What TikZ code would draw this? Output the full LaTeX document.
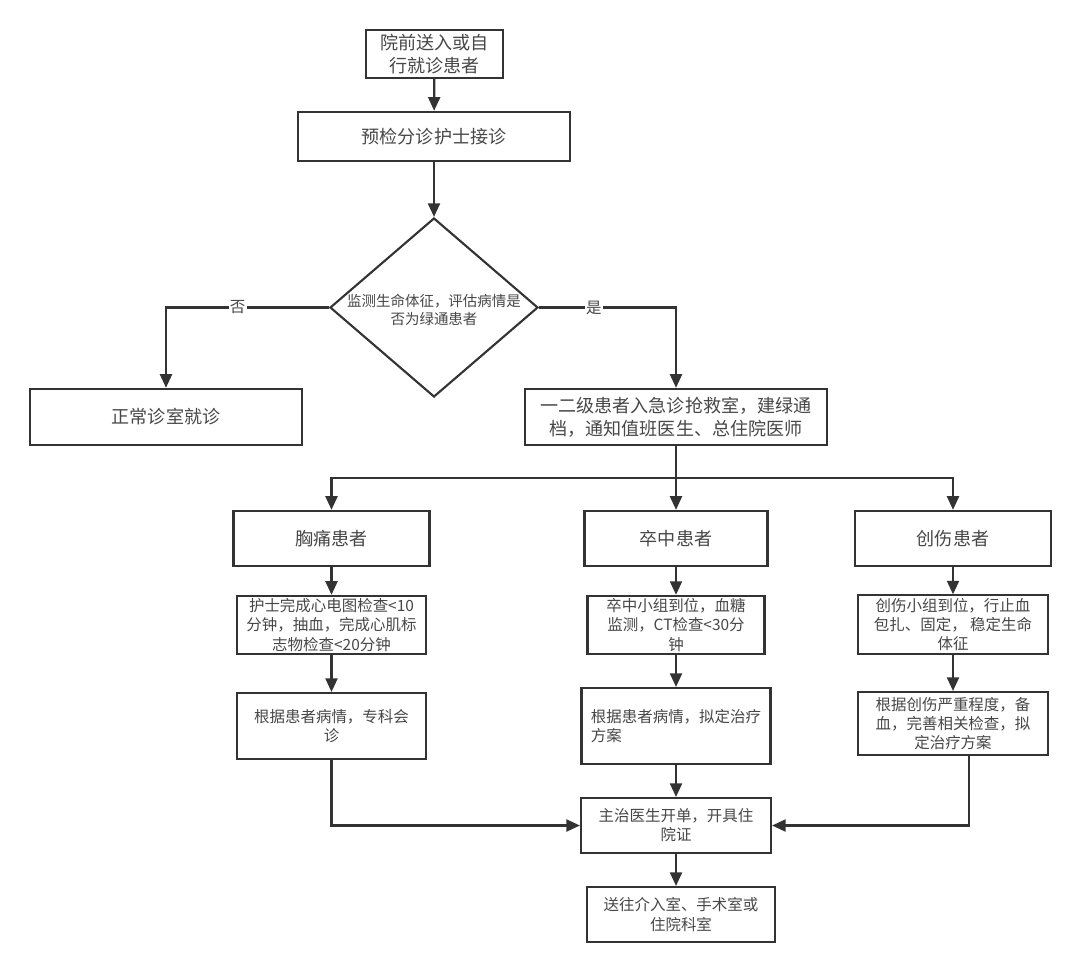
\documentclass[tikz,border=0pt]{standalone}
\usepackage{fontspec}
\setmainfont{Noto Sans CJK SC}
\usepackage{tikz}
\usetikzlibrary{arrows.meta,shapes.geometric}
\definecolor{ink}{HTML}{333333}

\begin{document}
\begin{tikzpicture}[
      box/.style={draw=ink,line width=1.7pt,text=ink!90,align=center,inner sep=2pt,
                  font=\fontsize{12.85}{16.3}\selectfont},
      smallbox/.style={box,line width=1.5pt,font=\fontsize{11}{13.6}\selectfont},
      arr/.style={draw=ink,line width=1.5pt,-{Triangle[length=0.34cm,width=0.3cm]}}]
      \useasboundingbox[fill=white] (0,0) rectangle (27,-24.3);

      \node[box,minimum width=3.425cm,minimum height=1.2cm] (start) at (10.86,-1.35)
            {院前送入或自\\行就诊患者};
      \node[box,minimum width=6.8cm,minimum height=1.225cm] (triage) at (10.85,-3.41)
            {预检分诊护士接诊};
      \node[draw=ink,line width=1.5pt,diamond,inner sep=0pt,
            minimum width=5.2cm,minimum height=4.475cm] (decide) at (10.85,-7.6875) {};
      \node[text=ink!90,align=center,font=\fontsize{10.3}{12.9}\selectfont] (decidetext)
            at ([yshift=-0.05cm]decide.center) {监测生命体征，评估病情是\\否为绿通患者};
      \node[box,minimum width=6.8cm,minimum height=1.4cm] (normal) at (4.15,-10.425)
            {正常诊室就诊};
      \node[box,minimum width=7.55cm,minimum height=1.4cm] (green) at (16.9,-10.425)
            {一二级患者入急诊抢救室，建绿通\\档，通知值班医生、总住院医师};
      \coordinate (split) at (16.9,-11.95);

      \node[box,minimum width=4.9cm,minimum height=1.375cm] (chest) at (8.2875,-13.4625)
            {胸痛患者};
      \node[box,minimum width=4.575cm,minimum height=1.375cm] (stroke) at (16.9,-13.4625)
            {卒中患者};
      \node[box,minimum width=4.9cm,minimum height=1.375cm] (trauma) at (23.825,-13.4625)
            {创伤患者};

      \node[smallbox,minimum width=4.725cm,minimum height=1.45cm] (chest2) at (8.2875,-15.625)
            {护士完成心电图检查<10\\分钟，抽血，完成心肌标\\志物检查<20分钟};
      \node[smallbox,minimum width=4.425cm,minimum height=1.45cm] (stroke2) at (16.9,-15.625)
            {卒中小组到位，血糖\\监测，CT检查<30分\\钟};
      \node[smallbox,minimum width=4.75cm,minimum height=1.425cm] (trauma2) at (23.825,-15.6125)
            {创伤小组到位，行止血\\包扎、固定， 稳定生命\\体征};

      \node[smallbox,minimum width=4.725cm,minimum height=1.65cm] (chest3) at (8.2875,-18.15)
            {根据患者病情，专科会\\诊};
      \node[smallbox,align=left,minimum width=4.725cm,minimum height=1.9cm] (stroke3) at (16.9,-18.15)
            {根据患者病情，拟定治疗\\方案};
      \node[smallbox,minimum width=4.75cm,minimum height=1.575cm] (trauma3) at (23.825,-18.0875)
            {根据创伤严重程度，备\\血，完善相关检查，拟\\定治疗方案};

      \node[smallbox,minimum width=4.75cm,minimum height=1.375cm] (admit) at (16.9,-20.6375)
            {主治医生开单，开具住\\院证};
      \node[smallbox,minimum width=4.7cm,minimum height=1.375cm] (transfer) at (17.025,-22.8625)
            {送往介入室、手术室或\\住院科室};

      \draw[arr] (start) -- (triage);
      \draw[arr] (triage) -- (decide);
      \draw[arr] (decide.west) -| (normal.north)
            node[pos=0.28,fill=white,inner sep=1pt,text=ink!90,font=\fontsize{11}{12}\selectfont] {否};
      \draw[arr] (decide.east) -| (green.north)
            node[pos=0.2,fill=white,inner sep=1pt,text=ink!90,font=\fontsize{11}{12}\selectfont] {是};
      \draw[arr] (green.south) -- (split) -| (chest.north);
      \draw[arr] (split) -- (stroke.north);
      \draw[arr] (split) -| (trauma.north);
      \draw[arr] (chest) -- (chest2);
      \draw[arr] (chest2) -- (chest3);
      \draw[arr] (stroke) -- (stroke2);
      \draw[arr] (stroke2) -- (stroke3);
      \draw[arr] (trauma) -- (trauma2);
      \draw[arr] (trauma2) -- (trauma3);
      \draw[arr] (stroke3) -- (admit);
      \draw[arr] (chest3.south) |- (admit.west);
      \draw[arr] ([xshift=0.4cm]trauma3.south) |- (admit.east);
      \draw[arr] (admit.south) -- (admit.south |- transfer.north);
\end{tikzpicture}
\end{document}
